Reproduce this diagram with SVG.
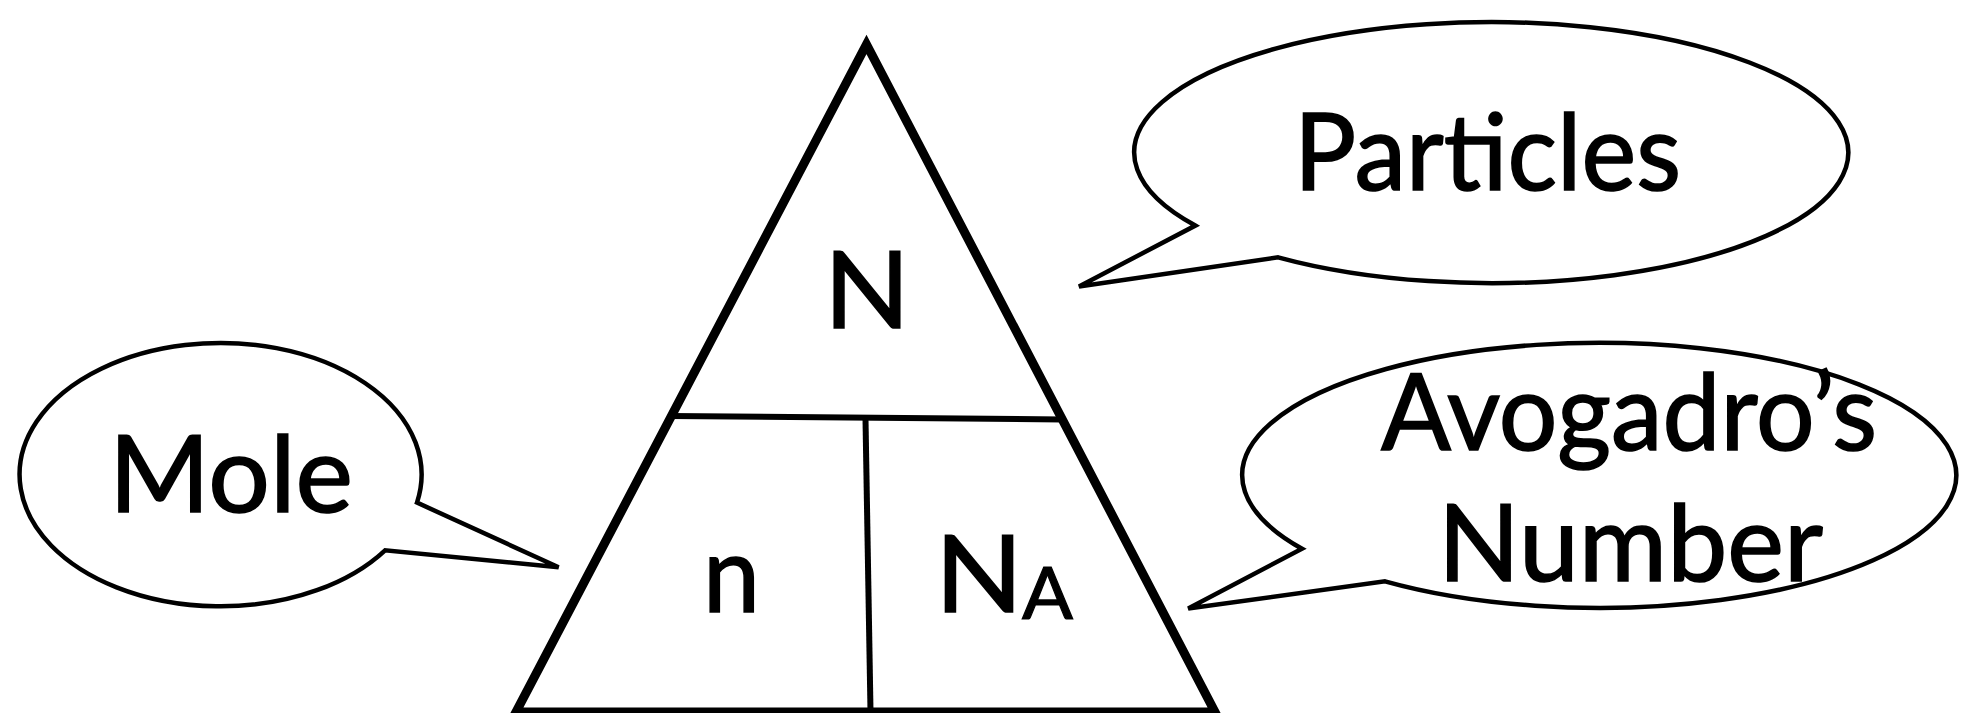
<svg xmlns="http://www.w3.org/2000/svg" width="1963" height="713" viewBox="0 0 1963 713">
<style>
.bubble{fill:#fff;stroke:#000;stroke-width:4.5;stroke-linejoin:miter}
.tri{fill:#fff;stroke:#000;stroke-width:9;stroke-linejoin:miter;stroke-miterlimit:10}
.div{fill:none;stroke:#000;stroke-width:6}
.t{font-family:Lato,"Open Sans","Liberation Sans",sans-serif;font-size:107px;fill:#000;stroke:#000;stroke-width:1.6}
.sub{font-size:71px;stroke-width:1.2}
</style>
<rect width="1963" height="713" fill="#fff"/>
<g id="triangle">
<path class="tri" d="M866.5 44.4 L516 712 L1215 712 Z"/>
<path class="div" d="M670 416 L1063 419.5"/>
<path class="div" d="M865.5 419 L870.5 711"/>
</g>
<g id="label-N">
<text class="t" x="824" y="328.3" textLength="86" lengthAdjust="spacingAndGlyphs">N</text>
</g>
<g id="label-n">
<text class="t" x="703" y="611.7" textLength="57" lengthAdjust="spacingAndGlyphs">n</text>
</g>
<g id="label-NA">
<text class="t" x="935" y="611.7" textLength="88" lengthAdjust="spacingAndGlyphs">N</text>
<text class="t sub" x="1022" y="619" textLength="51" lengthAdjust="spacingAndGlyphs">A</text>
</g>
<g id="bubble-mole">
<path class="bubble" d="M417 502.6 A201 131.7 0 1 0 385.1 550.3 L558.6 567.3 Z"/>
<text class="t" x="109" y="511.7" textLength="244" lengthAdjust="spacingAndGlyphs">Mole</text>
</g>
<g id="bubble-particles">
<path class="bubble" d="M1195.3 225.6 A357 130.5 0 1 1 1278.1 257.3 L1079 286.5 Z"/>
<text class="t" x="1294" y="190" textLength="387" lengthAdjust="spacingAndGlyphs">Particles</text>
</g>
<g id="bubble-avogadro">
<path class="bubble" d="M1302 548.7 A357 132.5 0 1 1 1385 581.3 L1188.2 608.5 Z"/>
<text class="t" x="1381" y="450" textLength="496" lengthAdjust="spacingAndGlyphs">Avogadro’s</text>
<text class="t" x="1438" y="580.7" textLength="385" lengthAdjust="spacingAndGlyphs">Number</text>
</g>
</svg>
